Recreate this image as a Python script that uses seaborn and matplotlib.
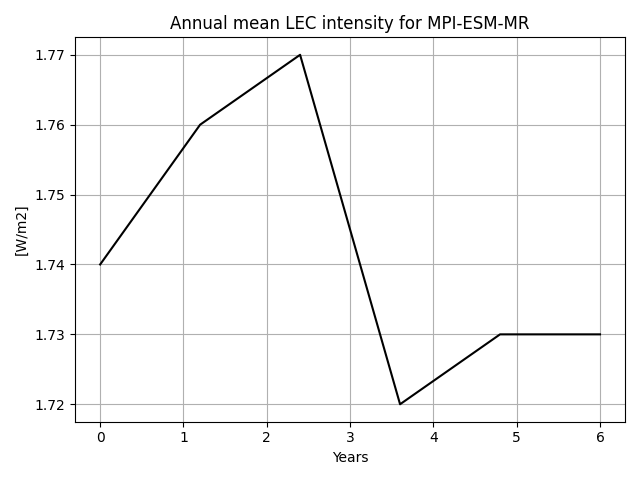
import matplotlib
matplotlib.use("Agg")
import matplotlib.pyplot as plt
import seaborn as sns
import pandas as pd

years = [0.0, 1.2, 2.4, 3.6, 4.8, 6.0]
lec = [1.74, 1.76, 1.77, 1.72, 1.73, 1.73]

df = pd.DataFrame({"Years": years, "LEC": lec})
fig, ax = plt.subplots(figsize=(6.4, 4.8), dpi=100)
sns.lineplot(data=df, x="Years", y="LEC", color="black", ax=ax)
ax.grid(True)
ax.set_xlabel("Years")
ax.set_ylabel("[W/m2]")
ax.set_title("Annual mean LEC intensity for MPI-ESM-MR")
fig.tight_layout()
fig.savefig("out.png")
